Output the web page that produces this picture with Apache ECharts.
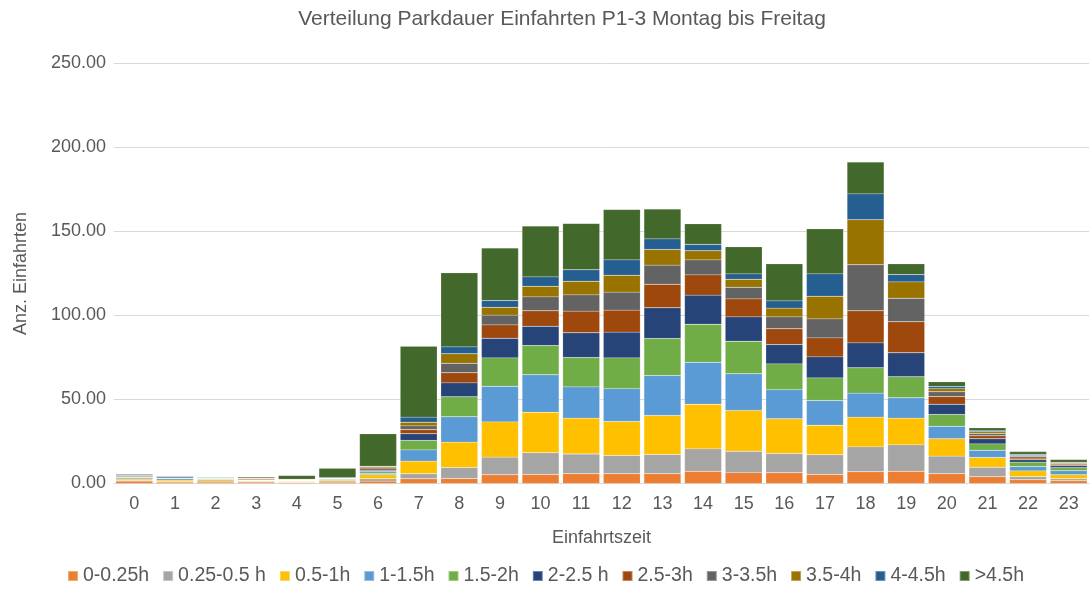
<!DOCTYPE html>
<html>
<head>
<meta charset="utf-8">
<title>Verteilung Parkdauer</title>
<script src="https://cdn.jsdelivr.net/npm/echarts@6/dist/echarts.min.js"></script>
<style>
    html, body { margin: 0; padding: 0; background: #fff; }
    #chart { width: 1091px; height: 589px; }
</style>
</head>
<body>
<div id="chart"></div>
<script>
const hours = ['0','1','2','3','4','5','6','7','8','9','10','11','12','13','14','15','16','17','18','19','20','21','22','23'];

const yTicks = [0, 50, 100, 150, 200, 250];

// Parkdauer-Klassen, von unten nach oben gestapelt
const d0_025  = [1.4, 0.8, 0.8, 0.8, 0.6, 0.8, 1.4, 2.8, 3.0, 5.2, 5.4, 5.8, 5.8, 5.8, 7.3, 6.5, 6.4, 5.4, 7.0, 7.3, 5.8, 4.0, 2.2, 1.6];
const d025_05 = [0.4, 0.4, 0.6, 0.4, 0.3, 0.6, 1.4, 3.0, 6.5, 10.5, 12.9, 11.8, 10.9, 11.5, 13.3, 12.7, 11.5, 11.7, 14.8, 15.7, 10.5, 5.7, 1.8, 1.2];
const d05_1   = [0.8, 0.8, 0.8, 0.4, 0.4, 0.6, 2.4, 7.5, 15.1, 21.0, 24.1, 21.3, 20.2, 23.2, 26.6, 24.3, 20.6, 17.6, 17.7, 15.9, 10.3, 5.8, 3.5, 2.4];
const d1_15   = [0.7, 0.8, 0.2, 0.2, 0.2, 0.3, 0.9, 6.7, 15.1, 21.2, 22.3, 18.6, 19.6, 23.8, 25.0, 21.8, 17.4, 14.7, 14.3, 12.1, 7.5, 4.3, 2.6, 2.4];
const d15_2   = [0.4, 0.4, 0.5, 0.3, 0.2, 0.3, 1.0, 5.6, 11.9, 16.9, 17.4, 17.5, 18.3, 22.0, 22.6, 19.4, 15.3, 13.5, 15.1, 12.5, 7.0, 3.8, 2.6, 1.8];
const d2_25   = [0.5, 0.6, 0.1, 0.2, 0.2, 0.2, 0.8, 4.0, 8.3, 11.7, 11.5, 14.7, 15.3, 18.3, 17.3, 14.5, 11.5, 12.5, 14.8, 14.3, 6.1, 3.0, 1.4, 1.2];
const d25_3   = [0.5, 0.3, 0.2, 0.6, 0.4, 0.3, 0.8, 2.5, 6.0, 7.9, 9.2, 12.9, 13.1, 14.0, 12.1, 10.7, 9.4, 11.3, 19.1, 18.5, 4.6, 1.8, 1.0, 0.8];
const d3_35   = [0.4, 0.4, 0.1, 0.2, 0.1, 0.2, 0.6, 2.2, 5.7, 5.8, 8.3, 9.7, 10.7, 11.4, 8.9, 6.9, 7.1, 11.3, 27.4, 14.0, 2.8, 1.4, 0.8, 0.5];
const d35_4   = [0.1, 0.1, 0.1, 0.1, 0.1, 0.1, 0.6, 2.2, 5.6, 4.7, 6.3, 8.1, 10.1, 9.3, 5.4, 4.8, 5.2, 13.5, 26.8, 9.7, 1.9, 1.0, 0.8, 0.5];
const d4_45   = [0.6, 0.1, 0.1, 0.1, 0.1, 0.1, 0.4, 3.0, 4.1, 4.0, 5.6, 6.8, 9.1, 6.3, 3.8, 3.2, 4.3, 13.3, 15.4, 4.4, 1.2, 0.7, 0.7, 0.3];
const dOver45 = [0.2, 0.1, 0.3, 0.7, 2.2, 5.5, 19.3, 42.2, 44.1, 31.2, 30.2, 27.6, 30.0, 17.7, 12.3, 16.1, 22.0, 26.8, 18.9, 6.3, 2.8, 1.6, 1.6, 1.6];

const seriesNames  = ['0-0.25h', '0.25-0.5 h', '0.5-1h', '1-1.5h', '1.5-2h', '2-2.5 h', '2.5-3h', '3-3.5h', '3.5-4h', '4-4.5h', '>4.5h'];
const seriesData   = [d0_025, d025_05, d05_1, d1_15, d15_2, d2_25, d25_3, d3_35, d35_4, d4_45, dOver45];
const seriesColors = ['#ED7D31', '#A5A5A5', '#FFC000', '#5B9BD5', '#70AD47', '#264478', '#9E480E', '#636363', '#997300', '#255E91', '#43682B'];

const textColor = '#595959';
const font = 'Liberation Sans, Arial, sans-serif';

const chart = echarts.init(document.getElementById('chart'), null, { renderer: 'canvas' });

const series = seriesNames.map((name, i) => ({
    name: name,
    type: 'bar',
    stack: 'total',
    barCategoryGap: '9%',
    data: seriesData[i],
    itemStyle: {
        color: seriesColors[i],
        borderColor: 'rgba(255,255,255,0.35)',
        borderWidth: 0.4
    }
}));

chart.setOption({
    animation: false,
    color: seriesColors,
    title: {
        text: 'Verteilung Parkdauer Einfahrten P1-3 Montag bis Freitag',
        left: 557,
        textAlign: 'center',
        top: 4,
        textStyle: { color: textColor, fontSize: 21, fontWeight: 'normal', fontFamily: font }
    },
    legend: {
        bottom: -2,
        left: 'center',
        icon: 'rect',
        itemWidth: 10,
        itemHeight: 10,
        itemGap: 13,
        textStyle: { color: textColor, fontSize: 19.5, fontFamily: font },
        data: seriesNames
    },
    grid: {
        left: 114,
        right: 2,
        top: 63.5,
        bottom: 105.5,
        containLabel: false
    },
    xAxis: {
        type: 'category',
        data: hours,
        name: 'Einfahrtszeit',
        nameLocation: 'middle',
        nameGap: 46,
        nameTextStyle: { color: textColor, fontSize: 18, fontFamily: font },
        axisLine: { lineStyle: { color: '#d9d9d9', width: 1 } },
        axisTick: { show: false },
        axisLabel: { color: textColor, fontSize: 18, fontFamily: font, margin: 12 }
    },
    yAxis: {
        type: 'value',
        min: yTicks[0],
        max: yTicks[yTicks.length - 1],
        interval: yTicks[1] - yTicks[0],
        name: 'Anz. Einfahrten',
        nameLocation: 'middle',
        nameGap: 84,
        nameTextStyle: { color: textColor, fontSize: 18, fontFamily: font },
        axisLine: { show: false },
        axisTick: { show: false },
        splitLine: { lineStyle: { color: '#d9d9d9', width: 1 } },
        axisLabel: {
            color: textColor,
            fontSize: 18,
            fontFamily: font,
            margin: 8,
            formatter: v => v.toFixed(2)
        }
    },
    series: series
});
</script>
</body>
</html>
